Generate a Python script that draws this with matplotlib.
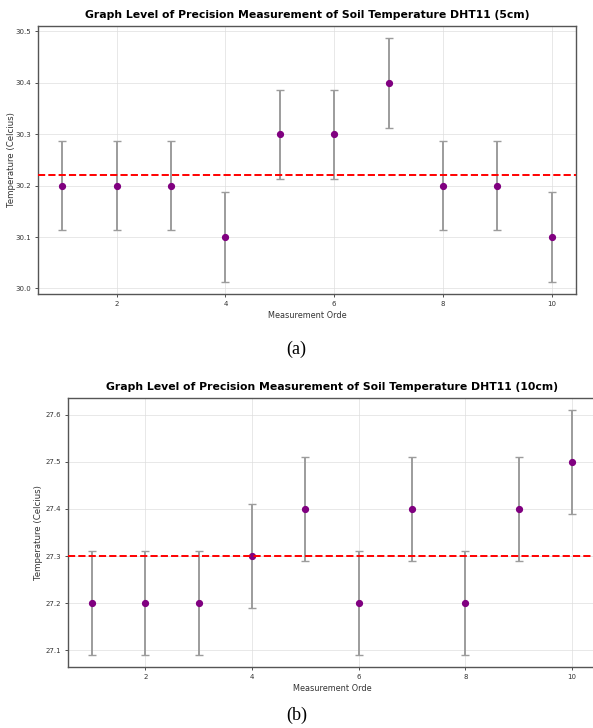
import numpy as np
import matplotlib
matplotlib.use('Agg')
from matplotlib import pyplot as plt

order = [1, 2, 3, 4, 5, 6, 7, 8, 9, 10]

# 5cm readings
temp5 = [30.2, 30.2, 30.2, 30.1, 30.3, 30.3, 30.4, 30.2, 30.2, 30.1]
err5 = 0.087
mean5 = 30.22

# 10cm readings
temp10 = [27.2, 27.2, 27.2, 27.3, 27.4, 27.2, 27.4, 27.2, 27.4, 27.5]
err10 = 0.11
mean10 = 27.30

titles = ['Graph Level of Precision Measurement of Soil Temperature DHT11 (5cm)',
          'Graph Level of Precision Measurement of Soil Temperature DHT11 (10cm)']
captions = ['(a)', '(b)']

fig = plt.figure(figsize=(5.93, 7.28), dpi=100)

# axes boxes in figure fractions
boxes = [[0.0641, 0.5962, 0.9072, 0.3681],
         [0.1147, 0.0838, 0.8904, 0.3695]]
ylab_x = [-0.040, -0.047]

data = [(temp5, err5, mean5), (temp10, err10, mean10)]

for i in range(2):
    ax = fig.add_axes(boxes[i])
    t, e, m = data[i]
    ax.errorbar(order, t, yerr=e, fmt='o', color='purple', markersize=4.2,
                ecolor='#9c9c9c', elinewidth=1.4, capsize=3, capthick=1.0, zorder=3)
    ax.axhline(m, color='red', linestyle='--', linewidth=1.4, zorder=4)
    ax.set_title(titles[i], fontsize=7.8, fontweight='bold', pad=6)
    ax.set_xlabel('Measurement Orde', fontsize=5.9, labelpad=3, color='#333333')
    ax.set_ylabel('Temperature (Celcius)', fontsize=6.2, color='#333333')
    ax.yaxis.set_label_coords(ylab_x[i], 0.5)
    ax.tick_params(labelsize=5.0, length=2, width=0.6, pad=3, colors='#333333')
    ax.grid(True, color='#dddddd', linewidth=0.6, alpha=0.8)
    ax.set_axisbelow(True)
    for s in ax.spines.values():
        s.set_color('#555555')
        s.set_linewidth(1.0)

fig.text(0.5, 1 - 349 / 728, captions[0], ha='center', va='center',
         fontsize=13, family='Liberation Serif')
fig.text(0.5, 1 - 715 / 728, captions[1], ha='center', va='center',
         fontsize=13, family='Liberation Serif')

fig.savefig('out.png', dpi=100)
